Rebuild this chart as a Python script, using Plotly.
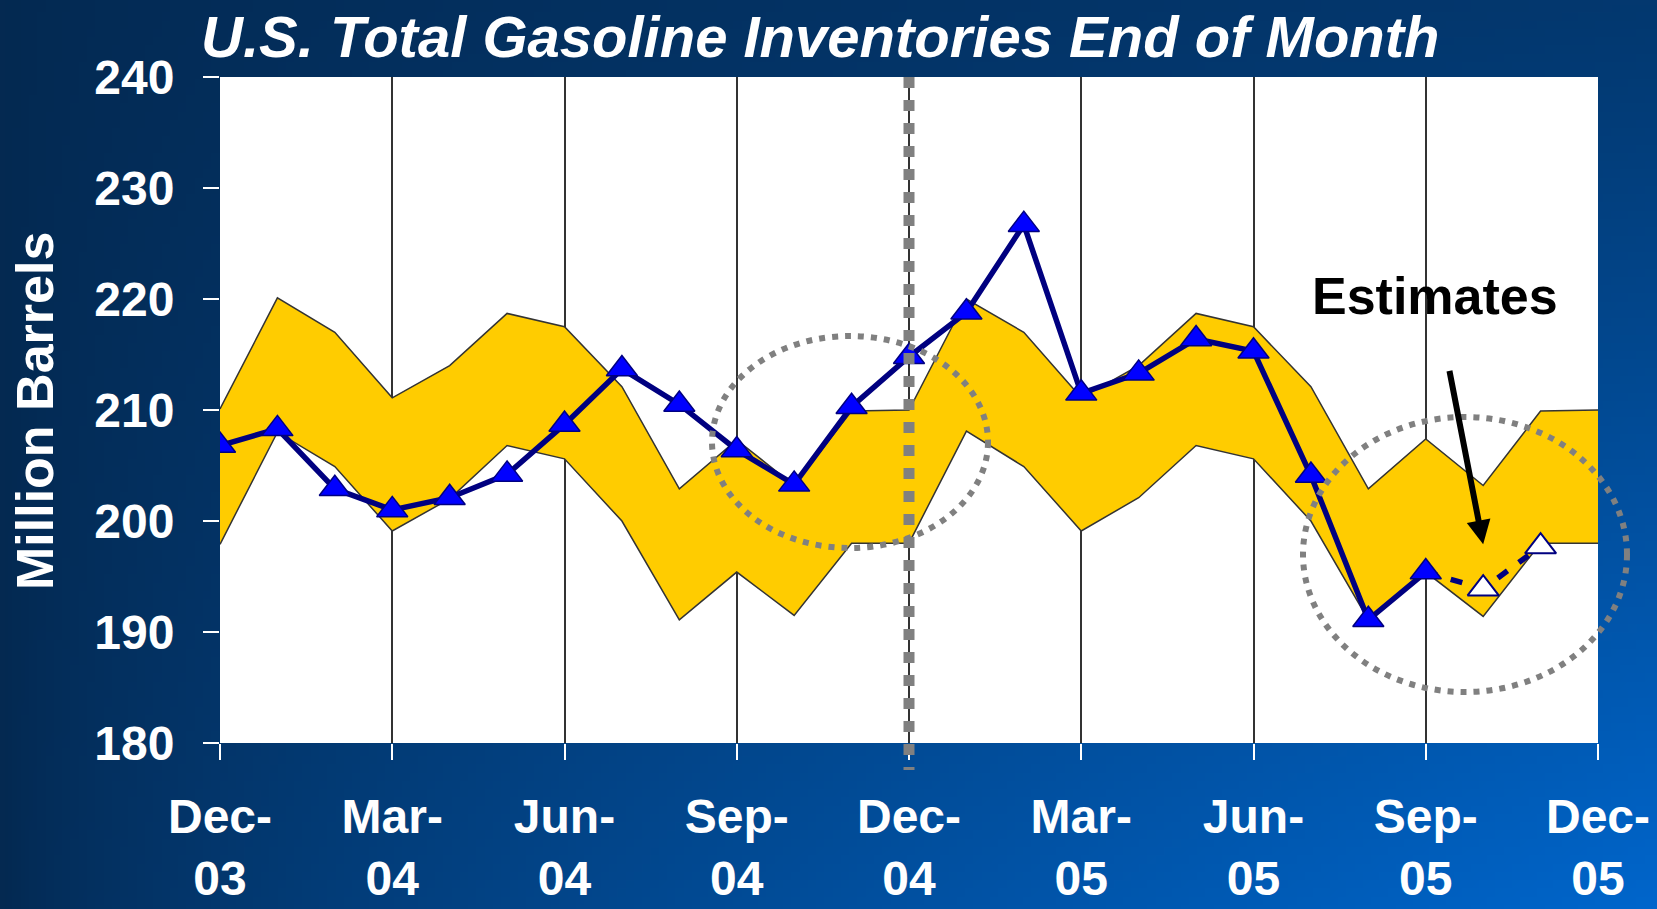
import base64
import struct
import zlib

import numpy as np
import plotly.graph_objects as go

# ---------------- data ----------------
months = ["Dec-03", "Jan-04", "Feb-04", "Mar-04", "Apr-04", "May-04", "Jun-04",
          "Jul-04", "Aug-04", "Sep-04", "Oct-04", "Nov-04", "Dec-04",
          "Jan-05", "Feb-05", "Mar-05", "Apr-05", "May-05", "Jun-05",
          "Jul-05", "Aug-05", "Sep-05", "Oct-05", "Nov-05", "Dec-05"]

# 5-year range band (upper / lower), million barrels
band_upper = [210.1, 220.1, 217.0, 211.1, 214.0, 218.7, 217.5, 212.1, 202.9, 207.3, 203.2, 209.9,
              210.0, 220.0, 217.0, 211.1, 214.0, 218.7, 217.5, 212.1, 202.9, 207.4, 203.2, 209.9,
              210.0]
band_lower = [197.9, 208.0, 204.9, 199.1, 202.0, 206.8, 205.6, 200.0, 191.1, 195.4, 191.5, 198.0,
              198.0, 208.1, 204.9, 199.1, 202.1, 206.8, 205.6, 200.0, 191.1, 195.4, 191.4, 198.0,
              198.0]

# actual inventories Dec-03 .. Sep-05
actual_months = months[:22]
actual = [206.8, 208.3, 202.9, 201.0, 202.1, 204.2, 208.7, 213.7, 210.5, 206.4, 203.3, 210.3,
          214.8, 218.8, 226.7, 211.5, 213.3, 216.4, 215.3, 204.1, 191.1, 195.4]

# estimates Oct-05, Nov-05
est_months = ["Oct-05", "Nov-05"]
estimates = [193.9, 197.7]

tick_months = ["Dec-03", "Mar-04", "Jun-04", "Sep-04", "Dec-04", "Mar-05", "Jun-05", "Sep-05", "Dec-05"]
tick_text = ["Dec-<br>03", "Mar-<br>04", "Jun-<br>04", "Sep-<br>04", "Dec-<br>04",
             "Mar-<br>05", "Jun-<br>05", "Sep-<br>05", "Dec-<br>05"]
y_ticks = [180, 190, 200, 210, 220, 230, 240]

# ---------------- layout geometry ----------------
W, H = 1657, 909
ML, MR, MT, MB = 220, 59, 77, 166
PW, PH = W - ML - MR, H - MT - MB

FONT = "Liberation Sans, Arial, Helvetica, sans-serif"
NAVY = "#000080"


def png_uri(arr):
    h, w, _ = arr.shape
    raw = b"".join(b"\x00" + arr[i].tobytes() for i in range(h))

    def chunk(tag, data):
        c = struct.pack(">I", len(data)) + tag + data
        return c + struct.pack(">I", zlib.crc32(tag + data) & 0xFFFFFFFF)

    png = (b"\x89PNG\r\n\x1a\n"
           + chunk(b"IHDR", struct.pack(">IIBBBBB", w, h, 8, 2, 0, 0, 0))
           + chunk(b"IDAT", zlib.compress(raw, 9))
           + chunk(b"IEND", b""))
    return "data:image/png;base64," + base64.b64encode(png).decode()


# background gradient: dark navy on the left, bright blue toward bottom-right
gw, gh = 200, 110
fx = np.linspace(0, 1, gw)[None, :]
fy = np.linspace(0, 1, gh)[:, None]
wgt = (fx ** 0.7) * (0.25 + 0.75 * fy ** 1.1)
dark = np.array([4, 41, 81], dtype=float)
bright = np.array([0, 102, 204], dtype=float)
grad = dark[None, None, :] + (bright - dark)[None, None, :] * wgt[:, :, None]
grad_uri = png_uri(np.clip(grad, 0, 255).astype(np.uint8))
white_uri = png_uri(np.full((2, 2, 3), 255, dtype=np.uint8))

fig = go.Figure()

# band
fig.add_trace(go.Scatter(x=months, y=band_lower, mode="lines",
                         line=dict(color="#333333", width=1.5), hoverinfo="skip",
                         showlegend=False))
fig.add_trace(go.Scatter(x=months, y=band_upper, mode="lines", fill="tonexty",
                         fillcolor="#FFCC00", line=dict(color="#333333", width=1.5),
                         hoverinfo="skip", showlegend=False))

# estimate dashed line (from last actual to estimates)
fig.add_trace(go.Scatter(x=[actual_months[-1]] + est_months, y=[actual[-1]] + estimates,
                         mode="lines", line=dict(color=NAVY, width=5.5, dash="12px,14px"),
                         showlegend=False))

# actual
fig.add_trace(go.Scatter(x=actual_months, y=actual, mode="lines+markers",
                         line=dict(color=NAVY, width=5.5),
                         marker=dict(symbol="triangle-up", size=27, color="#0000FF",
                                     line=dict(color=NAVY, width=1.5)),
                         showlegend=False))

# estimate markers
fig.add_trace(go.Scatter(x=est_months, y=estimates, mode="markers",
                         marker=dict(symbol="triangle-up", size=27, color="#FFFFFF",
                                     line=dict(color=NAVY, width=2)),
                         showlegend=False))


def px_to_paper_x(px):
    return (px - ML) / PW


def px_to_paper_y(py):
    return (H - MB - py) / PH


dec04_frac = months.index("Dec-04") / (len(months) - 1)

shapes = [
    # dotted ellipse around autumn 2004
    dict(type="circle", xref="paper", yref="paper",
         x0=px_to_paper_x(712), x1=px_to_paper_x(988),
         y0=px_to_paper_y(548), y1=px_to_paper_y(336),
         line=dict(color="#808080", width=6, dash="6px,7px"), layer="above"),
    # dotted ellipse around autumn 2005
    dict(type="circle", xref="paper", yref="paper",
         x0=px_to_paper_x(1303), x1=px_to_paper_x(1627),
         y0=px_to_paper_y(692), y1=px_to_paper_y(417),
         line=dict(color="#808080", width=6, dash="6px,7px"), layer="above"),
    # thick dashed vertical separator at Dec-04
    dict(type="line", xref="paper", yref="paper",
         x0=dec04_frac, x1=dec04_frac, y0=1.0, y1=px_to_paper_y(770),
         line=dict(color="#808080", width=11, dash="11px,12px"), layer="above"),
]

images = [
    dict(source=grad_uri, xref="paper", yref="paper",
         x=-ML / PW, y=1 + MT / PH, sizex=W / PW, sizey=H / PH,
         xanchor="left", yanchor="top", sizing="stretch", layer="below"),
    dict(source=white_uri, xref="paper", yref="paper",
         x=0, y=1, sizex=1, sizey=1,
         xanchor="left", yanchor="top", sizing="stretch", layer="below"),
]

annotations = [
    dict(text="<b><i>U.S. Total Gasoline Inventories End of Month</i></b>",
         xref="paper", yref="paper", x=px_to_paper_x(199), y=px_to_paper_y(36),
         xanchor="left", yanchor="middle", showarrow=False,
         font=dict(family=FONT, size=58, color="white")),
    dict(text="<b>Million Barrels</b>", textangle=-90,
         xref="paper", yref="paper", x=px_to_paper_x(35), y=px_to_paper_y(411),
         xanchor="center", yanchor="middle", showarrow=False,
         font=dict(family=FONT, size=52, color="white")),
    dict(text="<b>Estimates</b>",
         xref="paper", yref="paper", x=px_to_paper_x(1435), y=px_to_paper_y(296),
         xanchor="center", yanchor="middle", showarrow=False,
         font=dict(family=FONT, size=52, color="black")),
    dict(text="", x="Oct-05", y=197.9, xref="x", yref="y",
         showarrow=True, ax=-34, ay=-175, arrowhead=2, arrowsize=0.8,
         arrowwidth=6, arrowcolor="black"),
]

fig.update_layout(
    width=W, height=H,
    margin=dict(l=ML, r=MR, t=MT, b=MB, pad=0, autoexpand=False),
    paper_bgcolor="#04294f",
    plot_bgcolor="white",
    showlegend=False,
    shapes=shapes,
    images=images,
    annotations=annotations,
    font=dict(family=FONT, color="white"),
    xaxis=dict(
        type="category", categoryorder="array", categoryarray=months,
        range=[0, len(months) - 1], automargin=False,
        tickmode="array", tickvals=tick_months, ticktext=tick_text,
        ticks="outside", ticklen=16, tickwidth=2, tickcolor="white",
        showgrid=True, gridcolor="#333333", gridwidth=1.5,
        showline=False, zeroline=False,
        tickfont=dict(family=FONT, size=48, color="white", weight="bold"),
        ticklabelstandoff=15,
    ),
    yaxis=dict(
        range=[180, 240], tickmode="array", tickvals=y_ticks, automargin=False,
        ticks="outside", ticklen=16, tickwidth=2, tickcolor="white",
        showgrid=False, showline=False, zeroline=False,
        tickfont=dict(family=FONT, size=48, color="white", weight="bold"),
        ticklabelstandoff=19,
    ),
)

fig.write_html("out.html",
               config={"displayModeBar": False},
               post_script="document.body.style.margin='0';document.body.style.overflow='hidden';")
